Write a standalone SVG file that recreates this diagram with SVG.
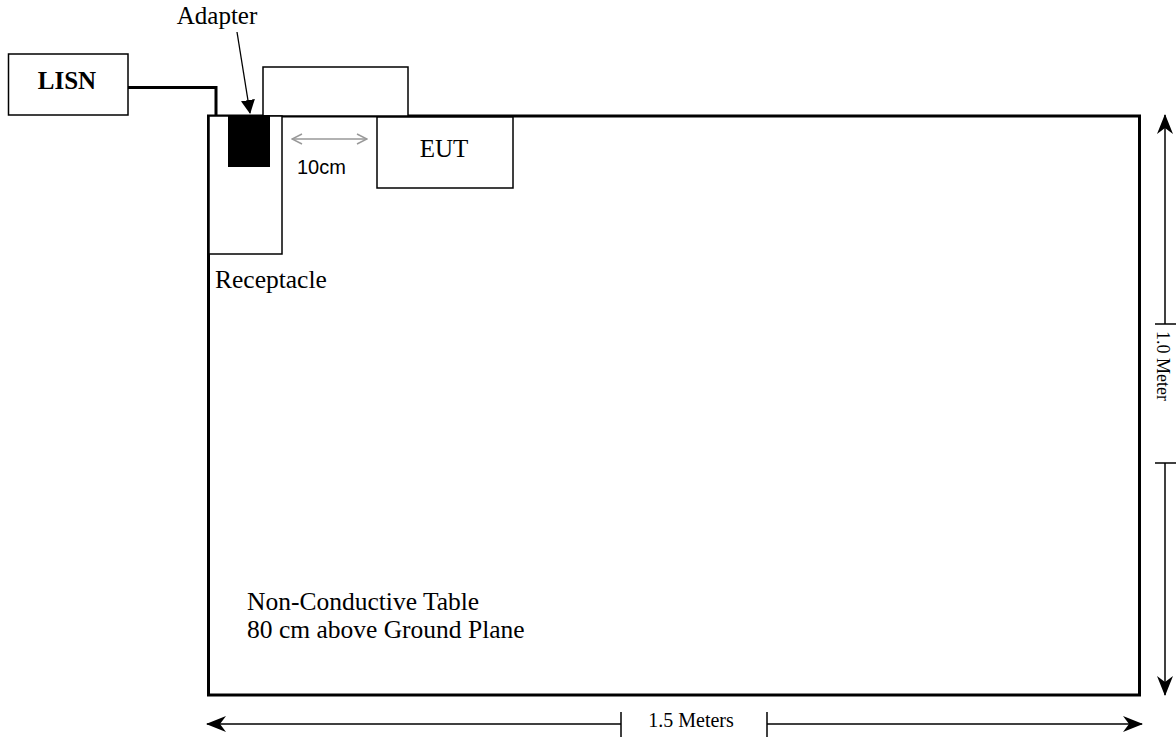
<svg xmlns="http://www.w3.org/2000/svg" width="1176" height="740" viewBox="0 0 1176 740">
<style>
.t{font-family:"Liberation Serif","Times New Roman",serif;fill:#000}
.box{fill:#fff;stroke:#000;stroke-width:1.5}
.dim{stroke:#000;stroke-width:1.5;fill:none}
</style>
<defs>
<marker id="ah" viewBox="0 0 20 20" refX="19" refY="10" markerWidth="20" markerHeight="20" markerUnits="userSpaceOnUse" orient="auto-start-reverse">
<path d="M0,2 L20,10 L0,18 L6,10 Z" fill="#000"/>
</marker>
<marker id="ag" viewBox="0 0 12 12" refX="11" refY="6" markerWidth="12" markerHeight="12" markerUnits="userSpaceOnUse" orient="auto-start-reverse">
<path d="M1,1 L11,6 L1,11" fill="none" stroke="#999" stroke-width="1.5"/>
</marker>
<marker id="aa" viewBox="0 0 14 14" refX="13" refY="7" markerWidth="14" markerHeight="14" markerUnits="userSpaceOnUse" orient="auto">
<path d="M0,0 L14,7 L0,14 Z" fill="#000"/>
</marker>
</defs>
<g id="table">
<rect x="208.5" y="116" width="931" height="579" fill="#fff" stroke="#000" stroke-width="3"/>
<text class="t" x="247" y="610" font-size="25.5">Non-Conductive Table</text>
<text class="t" x="247" y="638" font-size="25.5">80 cm above Ground Plane</text>
</g>
<g id="upper-box"><rect class="box" x="263" y="67" width="145" height="49"/></g>
<g id="lisn">
<rect class="box" x="8.5" y="54" width="119.5" height="61"/>
<text class="t" x="67" y="89" font-size="25" font-weight="bold" text-anchor="middle">LISN</text>
</g>
<g id="receptacle">
<rect class="box" x="209" y="116" width="73" height="138"/>
<text class="t" x="215" y="288" font-size="25.5">Receptacle</text>
</g>
<g id="adapter">
<rect x="228" y="115" width="42" height="52" fill="#000"/>
<text class="t" x="217" y="24" font-size="25" text-anchor="middle">Adapter</text>
</g>
<g id="eut">
<rect class="box" x="377" y="117" width="136" height="71"/>
<text class="t" x="444" y="157" font-size="25" text-anchor="middle">EUT</text>
</g>
<g id="connectors">
<polyline points="128,87.5 216,87.5 216,116" fill="none" stroke="#000" stroke-width="3"/>
<line x1="237" y1="32" x2="250" y2="113" stroke="#000" stroke-width="1.3" marker-end="url(#aa)"/>
<line x1="292" y1="139" x2="367" y2="139" stroke="#999" stroke-width="1.5" marker-start="url(#ag)" marker-end="url(#ag)"/>
<text x="297" y="174" font-family="Liberation Sans, Arial, sans-serif" font-size="20">10cm</text>
<line class="dim" x1="621" y1="724" x2="207" y2="724" marker-end="url(#ah)"/>
<line class="dim" x1="621" y1="712" x2="621" y2="737"/>
<line class="dim" x1="767" y1="724" x2="1142" y2="724" marker-end="url(#ah)"/>
<line class="dim" x1="767" y1="712" x2="767" y2="737"/>
<text class="t" x="691" y="727" font-size="20" text-anchor="middle">1.5 Meters</text>
<line class="dim" x1="1165" y1="324" x2="1165" y2="115" marker-end="url(#ah)"/>
<line class="dim" x1="1155" y1="324" x2="1176" y2="324"/>
<line class="dim" x1="1165" y1="463" x2="1165" y2="695" marker-end="url(#ah)"/>
<line class="dim" x1="1155" y1="463" x2="1176" y2="463"/>
<text class="t" transform="translate(1157,366) rotate(90)" font-size="18" text-anchor="middle">1.0 Meter</text>
</g>
</svg>
